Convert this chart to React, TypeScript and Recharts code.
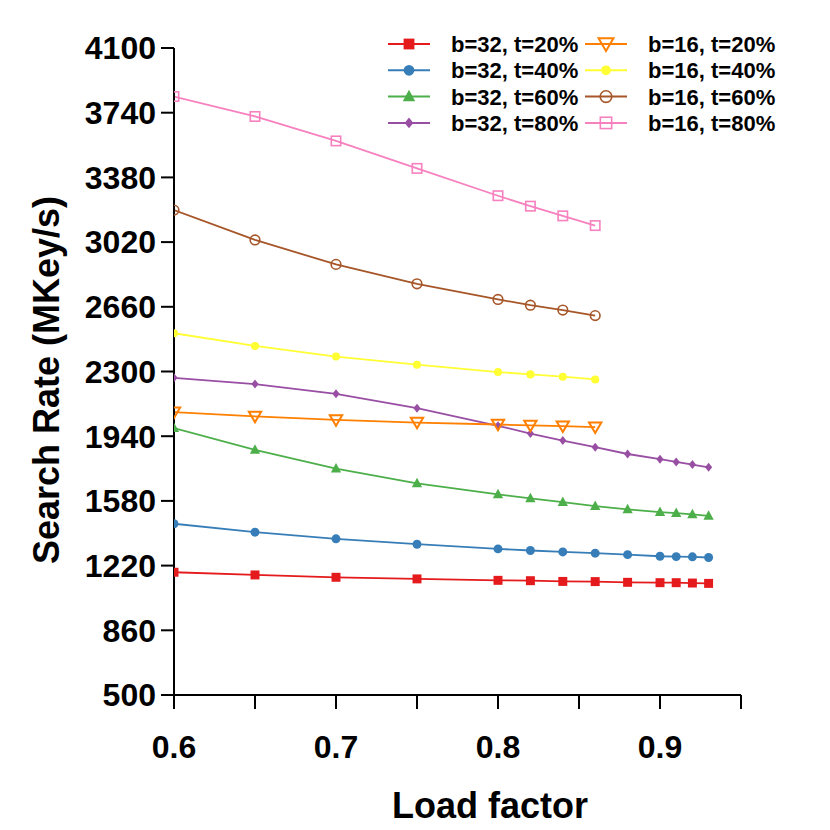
import React from "react"
import { LineChart, Line, XAxis, YAxis, Legend } from "recharts"

const loadFactors = [0.6, 0.65, 0.7, 0.75, 0.8, 0.82, 0.84, 0.86, 0.88, 0.9, 0.91, 0.92, 0.93]

const b32t20 = [1183, 1168, 1155, 1146, 1138, 1136, 1132, 1131, 1127, 1125, 1125, 1123, 1121]
const b32t40 = [1453, 1406, 1369, 1339, 1313, 1304, 1296, 1289, 1281, 1272, 1270, 1269, 1265]
const b32t60 = [1985, 1864, 1760, 1678, 1616, 1594, 1573, 1551, 1533, 1518, 1512, 1505, 1497]
const b32t80 = [2265, 2230, 2176, 2096, 1998, 1955, 1916, 1879, 1841, 1812, 1797, 1782, 1767]
const b16t20 = [2074, 2050, 2031, 2016, 2005, 2000, 1996, 1990]
const b16t40 = [2513, 2442, 2383, 2338, 2297, 2284, 2271, 2256]
const b16t60 = [3198, 3032, 2896, 2788, 2701, 2669, 2642, 2611]
const b16t80 = [3830, 3719, 3583, 3430, 3278, 3220, 3166, 3112]

const xTicks = [0.6, 0.65, 0.7, 0.75, 0.8, 0.85, 0.9, 0.95]
const xTickLabels = ["0.6", "", "0.7", "", "0.8", "", "0.9", ""]
const yTicks = [500, 860, 1220, 1580, 1940, 2300, 2660, 3020, 3380, 3740, 4100]

const FONT = "'Liberation Sans', Arial, Helvetica, sans-serif"

type Shape = "square" | "circle" | "triangle" | "diamond" | "triangleDown" | "dot" | "ring" | "box"

const series: { key: string; name: string; color: string; shape: Shape; values: number[] }[] = [
  { key: "b32t20", name: "b=32, t=20%", color: "#e41a1c", shape: "square", values: b32t20 },
  { key: "b32t40", name: "b=32, t=40%", color: "#377eb8", shape: "circle", values: b32t40 },
  { key: "b32t60", name: "b=32, t=60%", color: "#4daf4a", shape: "triangle", values: b32t60 },
  { key: "b32t80", name: "b=32, t=80%", color: "#984ea3", shape: "diamond", values: b32t80 },
  { key: "b16t20", name: "b=16, t=20%", color: "#ff7f00", shape: "triangleDown", values: b16t20 },
  { key: "b16t40", name: "b=16, t=40%", color: "#ffff33", shape: "dot", values: b16t40 },
  { key: "b16t60", name: "b=16, t=60%", color: "#a65628", shape: "ring", values: b16t60 },
  { key: "b16t80", name: "b=16, t=80%", color: "#f781bf", shape: "box", values: b16t80 },
]

const rows = loadFactors.map((lf, i) => {
  const row: Record<string, number | undefined> = { lf }
  series.forEach(s => { row[s.key] = s.values[i] })
  return row
})

function Marker({ shape, color, cx, cy, k = 1 }: { shape: Shape; color: string; cx: number; cy: number; k?: number }) {
  switch (shape) {
    case "square": {
      const s = 8 * k
      return <rect x={cx - s / 2} y={cy - s / 2} width={s} height={s} fill={color} />
    }
    case "circle":
      return <circle cx={cx} cy={cy} r={4 * k} fill={color} />
    case "triangle":
      return <polygon points={`${cx},${cy - 5 * k} ${cx - 4.6 * k},${cy + 3.5 * k} ${cx + 4.6 * k},${cy + 3.5 * k}`} fill={color} />
    case "diamond":
      return <polygon points={`${cx},${cy - 4 * k} ${cx + 3.2 * k},${cy} ${cx},${cy + 4 * k} ${cx - 3.2 * k},${cy}`} fill={color} />
    case "triangleDown":
      return <polygon points={`${cx - 5.5 * k},${cy - 4.2 * k} ${cx + 5.5 * k},${cy - 4.2 * k} ${cx},${cy + 5.2 * k}`} fill="none" stroke={color} strokeWidth={2} />
    case "dot":
      return <circle cx={cx} cy={cy} r={3.6 * k} fill={color} />
    case "ring":
      return <circle cx={cx} cy={cy} r={4.3 * k} fill="none" stroke={color} strokeWidth={1.6} />
    case "box": {
      const s = 8.4 * k
      return <rect x={cx - s / 2} y={cy - s / 2} width={s} height={s} fill="none" stroke={color} strokeWidth={1.6} />
    }
  }
  return null
}

function renderLegend() {
  return (
    <svg width={420} height={120} style={{ overflow: "visible" }}>
      {series.map((s, i) => {
        const col = i < 4 ? 0 : 1
        const row = i % 4
        const x0 = 8 + col * 197
        const y = 14 + row * 26.3
        return (
          <g key={s.key}>
            <line x1={x0} x2={x0 + 42} y1={y} y2={y} stroke={s.color} strokeWidth={2} />
            <Marker shape={s.shape} color={s.color} cx={x0 + 21} cy={y} k={1.35} />
            <text x={x0 + 63} y={y + 8} fontSize={22} fontWeight="bold" fontFamily={FONT} fill="#000">
              {s.name}
            </text>
          </g>
        )
      })}
    </svg>
  )
}

const XTitle = () => (
  <text x={482} y={810} textAnchor="middle" fontSize={36} fontWeight="bold" fontFamily={FONT} fill="#000">
    Load factor
  </text>
)

const YTitle = () => (
  <text x={51} y={372} transform="rotate(-90 51 372)" textAnchor="middle" fontSize={36} fontWeight="bold" fontFamily={FONT} fill="#000">
    Search Rate (MKey/s)
  </text>
)

export default function App() {
  const tickStyle = { fill: "#000", fontSize: 32, fontWeight: "bold", fontFamily: FONT }
  return (
    <div style={{ width: 814, height: 822, fontFamily: FONT }}>
      <LineChart width={814} height={822} data={rows} margin={{ top: 40, right: 81, bottom: 75, left: 0 }}>
        <XAxis
          dataKey="lf"
          type="number"
          domain={[0.6, 0.95]}
          ticks={xTicks}
          tickFormatter={(v: number) => xTickLabels[xTicks.findIndex(t => Math.abs(t - v) < 1e-6)] ?? ""}
          height={60}
          tickSize={14}
          tickMargin={26}
          interval={0}
          stroke="#000"
          strokeWidth={2}
          tick={tickStyle}
          tickLine={{ stroke: "#000", strokeWidth: 2 }}
          allowDataOverflow
          label={{ content: () => <XTitle /> }}
        />
        <YAxis
          type="number"
          domain={[500, 4100]}
          ticks={yTicks}
          width={166}
          tickSize={13}
          tickMargin={5}
          interval={0}
          stroke="#000"
          strokeWidth={2}
          tick={tickStyle}
          tickLine={{ stroke: "#000", strokeWidth: 2 }}
          allowDataOverflow
          label={{ content: () => <YTitle /> }}
        />
        <Legend
          content={renderLegend}
          layout="vertical"
          align="center"
          verticalAlign="middle"
          wrapperStyle={{ left: 372, top: 22, width: 420, height: 120 }}
        />
        {series.map(s => (
          <Line
            key={s.key}
            dataKey={s.key}
            name={s.name}
            stroke={s.color}
            strokeWidth={1.8}
            type="linear"
            isAnimationActive={false}
            connectNulls={false}
            activeDot={false}
            dot={(p: any) =>
              p.cx == null || p.cy == null || p.value == null ? (
                <g key={`${s.key}-${p.index}`} />
              ) : (
                <g key={`${s.key}-${p.index}`}>
                  <Marker shape={s.shape} color={s.color} cx={p.cx} cy={p.cy} k={1.12} />
                </g>
              )
            }
          />
        ))}
      </LineChart>
    </div>
  )
}
